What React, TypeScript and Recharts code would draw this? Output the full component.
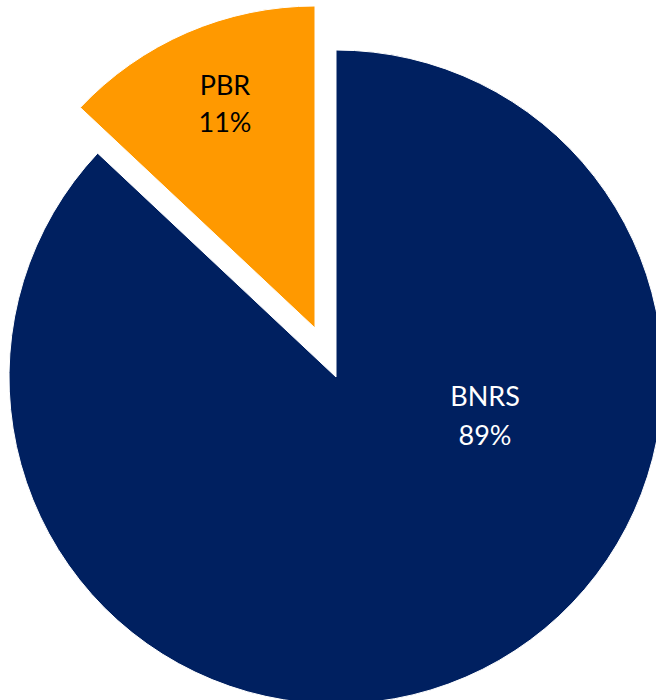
import React from "react";
import { PieChart, Pie, Cell } from "recharts";

const categories = ["BNRS", "PBR"];
const sliceValues = [87, 13];
const percentLabels = ["89%", "11%"];

const NAVY = "#002060";
const ORANGE = "#FF9900";

const data = categories.map((name, i) => ({ name, value: sliceValues[i], pct: percentLabels[i] }));

const FONT = "Lato, 'Noto Sans', sans-serif";

function makeLabel(showIndex: number, dx: number, dy1: number, dy2: number, color: string) {
  return (props: any) => {
    if (props.index !== showIndex) return null;
    const x = props.cx + dx;
    return (
      <g>
        <text x={x} y={props.cy + dy1} textAnchor="middle" fill={color} fontFamily={FONT} fontSize={27}>
          {props.name}
        </text>
        <text x={x} y={props.cy + dy2} textAnchor="middle" fill={color} fontFamily={FONT} fontSize={27}>
          {props.payload.pct}
        </text>
      </g>
    );
  };
}

export default function App() {
  return (
    <div>
      <style>{`html,body{margin:0;overflow:hidden}`}</style>
      <PieChart width={656} height={700} margin={{ top: 0, right: 0, bottom: 0, left: 0 }}>
        <Pie
          data={data}
          dataKey="value"
          nameKey="name"
          cx={336}
          cy={377}
          outerRadius={327}
          startAngle={90}
          endAngle={-270}
          isAnimationActive={false}
          labelLine={false}
          label={makeLabel(0, 149, 29, 68, "#ffffff")}
          stroke="#ffffff"
          strokeWidth={1}
        >
          <Cell fill={NAVY} />
          <Cell fill="none" stroke="none" />
        </Pie>
        <Pie
          data={data}
          dataKey="value"
          nameKey="name"
          cx={315}
          cy={328}
          outerRadius={322}
          startAngle={90}
          endAngle={-270}
          isAnimationActive={false}
          labelLine={false}
          label={makeLabel(1, -90, -233, -196, "#000000")}
          stroke="#ffffff"
          strokeWidth={1}
        >
          <Cell fill="none" stroke="none" />
          <Cell fill={ORANGE} />
        </Pie>
      </PieChart>
    </div>
  );
}
